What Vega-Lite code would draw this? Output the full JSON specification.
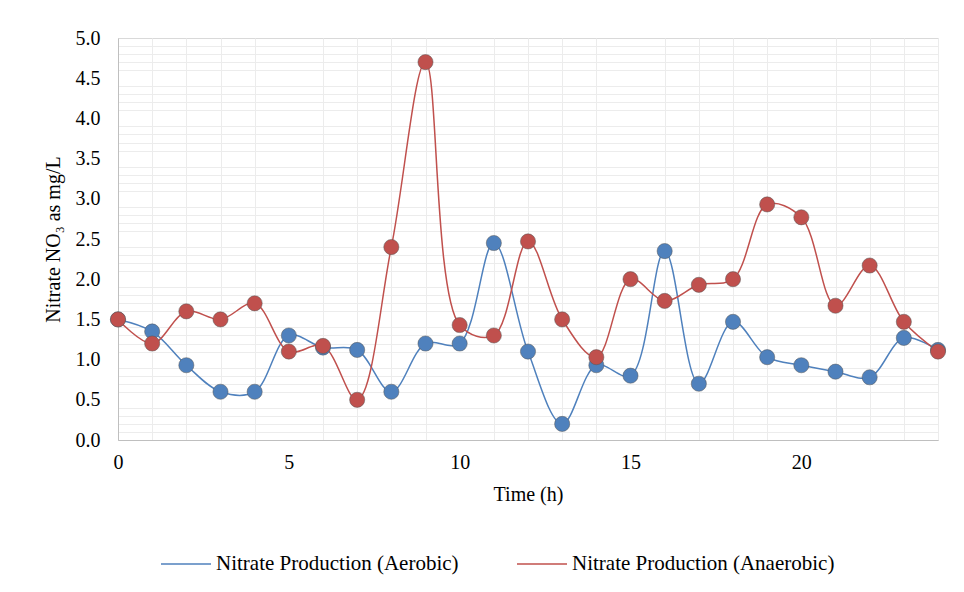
{
  "$schema": "https://vega.github.io/schema/vega-lite/v6.json",
  "width": 820,
  "height": 402,
  "autosize": "none",
  "padding": {"left": 118, "top": 38, "right": 26, "bottom": 152},
  "background": "white",
  "config": {
    "font": "Liberation Serif",
    "view": {"stroke": "#d9d9d9"},
    "axis": {"labelFont": "Liberation Serif", "titleFont": "Liberation Serif", "labelFontSize": 20, "titleFontSize": 20, "labelColor": "#000", "titleColor": "#000", "titleFontWeight": "normal", "domainColor": "#bfbfbf", "ticks": false, "labelFlush": false}
  },
  "resolve": {"axis": {"x": "independent", "y": "independent"}},
  "data": {"values": [
    {"t":0,"s":"Nitrate Production (Aerobic)","v":1.5},{"t":1,"s":"Nitrate Production (Aerobic)","v":1.35},{"t":2,"s":"Nitrate Production (Aerobic)","v":0.93},{"t":3,"s":"Nitrate Production (Aerobic)","v":0.6},{"t":4,"s":"Nitrate Production (Aerobic)","v":0.6},{"t":5,"s":"Nitrate Production (Aerobic)","v":1.3},{"t":6,"s":"Nitrate Production (Aerobic)","v":1.15},{"t":7,"s":"Nitrate Production (Aerobic)","v":1.12},{"t":8,"s":"Nitrate Production (Aerobic)","v":0.6},{"t":9,"s":"Nitrate Production (Aerobic)","v":1.2},{"t":10,"s":"Nitrate Production (Aerobic)","v":1.2},{"t":11,"s":"Nitrate Production (Aerobic)","v":2.45},{"t":12,"s":"Nitrate Production (Aerobic)","v":1.1},{"t":13,"s":"Nitrate Production (Aerobic)","v":0.2},{"t":14,"s":"Nitrate Production (Aerobic)","v":0.93},{"t":15,"s":"Nitrate Production (Aerobic)","v":0.8},{"t":16,"s":"Nitrate Production (Aerobic)","v":2.35},{"t":17,"s":"Nitrate Production (Aerobic)","v":0.7},{"t":18,"s":"Nitrate Production (Aerobic)","v":1.47},{"t":19,"s":"Nitrate Production (Aerobic)","v":1.03},{"t":20,"s":"Nitrate Production (Aerobic)","v":0.93},{"t":21,"s":"Nitrate Production (Aerobic)","v":0.85},{"t":22,"s":"Nitrate Production (Aerobic)","v":0.78},{"t":23,"s":"Nitrate Production (Aerobic)","v":1.27},{"t":24,"s":"Nitrate Production (Aerobic)","v":1.12},
    {"t":0,"s":"Nitrate Production (Anaerobic)","v":1.5},{"t":1,"s":"Nitrate Production (Anaerobic)","v":1.2},{"t":2,"s":"Nitrate Production (Anaerobic)","v":1.6},{"t":3,"s":"Nitrate Production (Anaerobic)","v":1.5},{"t":4,"s":"Nitrate Production (Anaerobic)","v":1.7},{"t":5,"s":"Nitrate Production (Anaerobic)","v":1.1},{"t":6,"s":"Nitrate Production (Anaerobic)","v":1.17},{"t":7,"s":"Nitrate Production (Anaerobic)","v":0.5},{"t":8,"s":"Nitrate Production (Anaerobic)","v":2.4},{"t":9,"s":"Nitrate Production (Anaerobic)","v":4.7},{"t":10,"s":"Nitrate Production (Anaerobic)","v":1.43},{"t":11,"s":"Nitrate Production (Anaerobic)","v":1.3},{"t":12,"s":"Nitrate Production (Anaerobic)","v":2.47},{"t":13,"s":"Nitrate Production (Anaerobic)","v":1.5},{"t":14,"s":"Nitrate Production (Anaerobic)","v":1.03},{"t":15,"s":"Nitrate Production (Anaerobic)","v":2.0},{"t":16,"s":"Nitrate Production (Anaerobic)","v":1.73},{"t":17,"s":"Nitrate Production (Anaerobic)","v":1.93},{"t":18,"s":"Nitrate Production (Anaerobic)","v":2.0},{"t":19,"s":"Nitrate Production (Anaerobic)","v":2.93},{"t":20,"s":"Nitrate Production (Anaerobic)","v":2.77},{"t":21,"s":"Nitrate Production (Anaerobic)","v":1.67},{"t":22,"s":"Nitrate Production (Anaerobic)","v":2.17},{"t":23,"s":"Nitrate Production (Anaerobic)","v":1.47},{"t":24,"s":"Nitrate Production (Anaerobic)","v":1.1}
  ]},
  "layer": [
    {
      "mark": {"type": "point", "opacity": 0},
      "encoding": {
        "x": {"field": "t", "type": "quantitative", "scale": {"domain": [0, 24], "nice": false}, "axis": {"orient": "top", "values": [1,2,3,4,6,7,8,9,11,12,13,14,16,17,18,19,21,22,23,24], "labels": false, "domain": false, "title": null, "gridColor": "#ececec"}},
        "y": {"field": "v", "type": "quantitative", "scale": {"domain": [0, 5]}, "axis": {"orient": "right", "values": [0.1,0.2,0.3,0.4,0.6,0.7,0.8,0.9,1.1,1.2,1.3,1.4,1.6,1.7,1.8,1.9,2.1,2.2,2.3,2.4,2.6,2.7,2.8,2.9,3.1,3.2,3.3,3.4,3.6,3.7,3.8,3.9,4.1,4.2,4.3,4.4,4.6,4.7,4.8,4.9], "labels": false, "domain": false, "title": null, "gridColor": "#ececec"}}
      }
    },
    {
      "layer": [
        {
          "mark": {"type": "line", "interpolate": "catmull-rom", "strokeWidth": 1.5},
          "encoding": {
            "color": {"field": "s", "type": "nominal", "title": null,
              "scale": {"range": ["#4f81bd", "#c0504d"]},
              "legend": {"orient": "none", "direction": "horizontal", "legendX": 42, "legendY": 500, "labelFontSize": 21, "labelFont": "Liberation Serif", "labelColor": "#000", "symbolType": "stroke", "symbolSize": 2500, "symbolStrokeWidth": 1.5, "columnPadding": 55, "labelLimit": 400}}
          }
        },
        {
          "mark": {"type": "point", "filled": true, "size": 230, "opacity": 1, "stroke": "#555", "strokeWidth": 0.5},
          "encoding": {"color": {"field": "s", "type": "nominal", "legend": null}}
        }
      ],
      "encoding": {
        "x": {"field": "t", "type": "quantitative", "title": "Time (h)", "scale": {"domain": [0, 24], "nice": false}, "axis": {"values": [0,5,10,15,20], "gridColor": "#d0d0d0", "labelPadding": 12, "titlePadding": 12}},
        "y": {"field": "v", "type": "quantitative", "title": "Nitrate NO₃ as mg/L", "scale": {"domain": [0, 5]}, "axis": {"values": [0,0.5,1,1.5,2,2.5,3,3.5,4,4.5,5], "format": ".1f", "gridColor": "#d0d0d0", "labelPadding": 18, "titlePadding": 12}}
      }
    }
  ]
}
